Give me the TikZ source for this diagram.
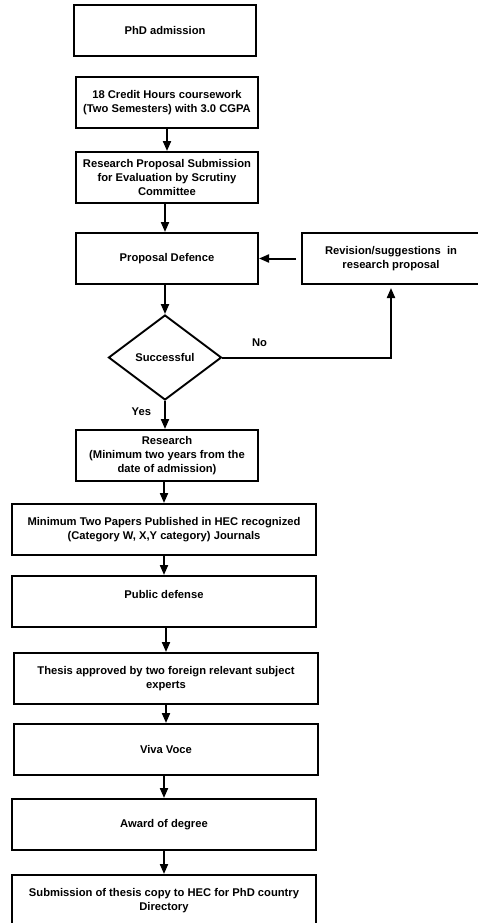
\documentclass[tikz,border=0pt]{standalone}
\usepackage{fontspec}
\setmainfont{Liberation Sans}
\usepackage{tikz}
\usetikzlibrary{shapes.geometric,arrows.meta,positioning}

\begin{document}
\begin{tikzpicture}[
    x=1pt, y=-1pt,
    box/.style={rectangle, draw, line width=2pt, align=center, minimum height=51pt, inner sep=2pt,
        font=\fontsize{11.2}{14}\selectfont\bfseries},
    narrow/.style={box, minimum width=182pt},
    wide/.style={box, minimum width=304pt},
    decision/.style={diamond, draw, line width=1.9pt, minimum width=113pt, minimum height=85pt, inner sep=0pt,
        aspect=1.33, font=\fontsize{11.2}{14}\selectfont\bfseries},
    lbl/.style={font=\fontsize{11.2}{14}\selectfont\bfseries, inner sep=0pt},
    arrow/.style={-{Triangle[length=10pt, width=8pt]}, line width=2pt},
]
    \useasboundingbox (0,0) rectangle (477,923);

    \node[narrow] (adm) at (165,30.5) {PhD admission};
    \node[narrow] (cred) at (167,102.5) {18 Credit Hours coursework\\(Two Semesters) with 3.0 CGPA};
    \node[narrow] (prop) at (167,177.5) {Research Proposal Submission\\for Evaluation by Scrutiny\\Committee};
    \node[narrow] (defn) at (167,258.5) {Proposal Defence};
    \node[narrow, minimum width=178pt] (rev) at (391,258.5) {Revision/suggestions\ \ in\\research proposal};
    \node[decision] (succ) at (165,357.5) {Successful};
    \node[narrow] (res) at (167,455.5) {Research\\(Minimum two years from the\\date of admission)};
    \node[wide] (pap) at (164,529.5) {Minimum Two Papers Published in HEC recognized\\(Category W, X,Y category) Journals};
    \node[wide] (pub) at (164,601.5) {Public defense\\\mbox{}};
    \node[wide] (thes) at (166,678.5) {Thesis approved by two foreign relevant subject\\experts};
    \node[wide] (viva) at (166,749.5) {Viva Voce};
    \node[wide] (awd) at (164,824.5) {Award of degree};
    \node[wide] (sub) at (164,900.5) {Submission of thesis copy to HEC for PhD country\\Directory};

    \draw[arrow] (cred.south) -- (prop.north);
    \draw[arrow] (succ.north |- prop.south) -- (succ.north |- defn.north);
    \draw[arrow] (succ.north |- defn.south) -- (succ.north);
    \draw[arrow, shorten <=5pt] (rev.west) -- (defn.east);
    \draw[arrow, shorten >=3pt] (succ.east) -| node[lbl, pos=0.11, above=10pt] (no) {No} (rev.south);
    \draw[arrow] (succ.south) -- node[lbl, pos=0.38, left=13pt] (yes) {Yes} (succ.south |- res.north);
    \draw[arrow] (pap.north |- res.south) -- (pap.north);
    \draw[arrow] (pub.north |- pap.south) -- (pub.north);
    \draw[arrow] (thes.north |- pub.south) -- (thes.north);
    \draw[arrow] (viva.north |- thes.south) -- (viva.north);
    \draw[arrow] (awd.north |- viva.south) -- (awd.north);
    \draw[arrow] (sub.north |- awd.south) -- (sub.north);
\end{tikzpicture}
\end{document}
